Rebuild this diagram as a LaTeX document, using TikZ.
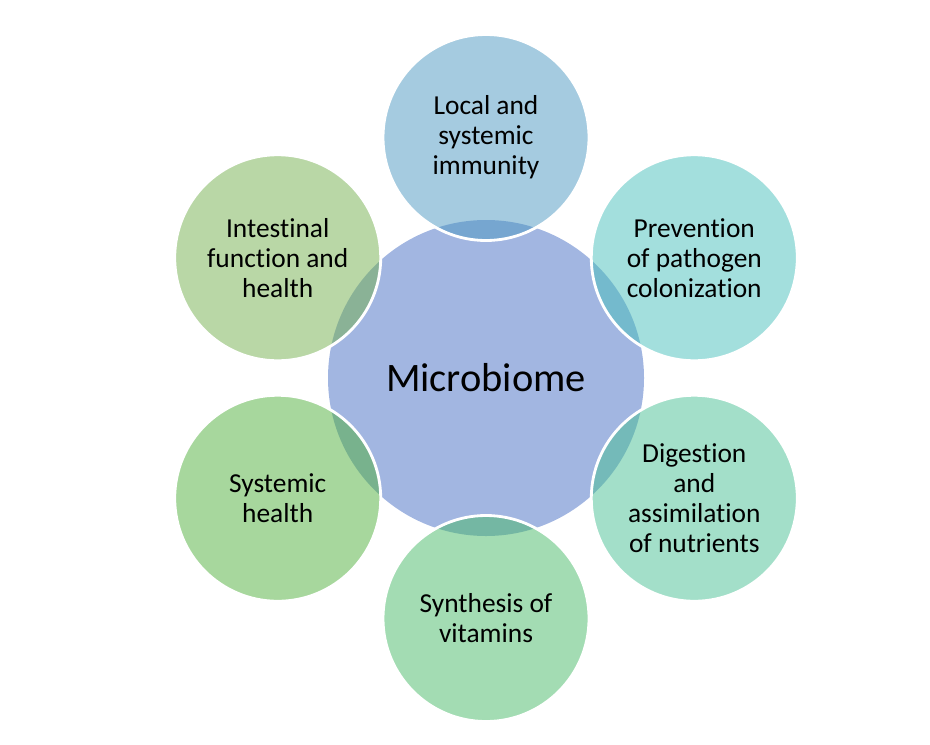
\documentclass[tikz,border=0pt]{standalone}
\usepackage{fontspec}
\setmainfont[Ligatures=NoCommon]{Carlito}
\definecolor{hubblue}{RGB}{162,182,225}
\definecolor{immblue}{RGB}{75,151,193}
\definecolor{pathteal}{RGB}{71,191,187}
\definecolor{digmint}{RGB}{71,191,147}
\definecolor{vitgreen}{RGB}{71,185,103}
\definecolor{sysgreen}{RGB}{79,175,59}
\definecolor{intgreen}{RGB}{115,175,77}
\tikzset{
  hub/.style={circle, fill=hubblue, minimum size=6.32cm, inner sep=0pt,
    font=\fontsize{23}{27}\selectfont},
  spoke/.style={circle, draw=white, line width=1.6pt, fill opacity=0.5, text opacity=1,
    minimum size=4.12cm, inner sep=0pt, align=center, font=\fontsize{15.6}{17.1}\selectfont},
}

\begin{document}
\begin{tikzpicture}
  \useasboundingbox (0,0) rectangle (18.6,14.88);
  \node[hub] (micro) at (9.72,7.32) {Microbiome};
  \foreach \ang/\name/\col/\txt in {
      90/immunity/immblue/{Local and\\systemic\\immunity},
      30/pathogen/pathteal/{Prevention\\of pathogen\\colonization},
     -30/digestion/digmint/{Digestion\\and\\assimilation\\of nutrients},
     -90/vitamins/vitgreen/{Synthesis of\\vitamins},
    -150/systemic/sysgreen/{Systemic\\health},
     150/intestinal/intgreen/{Intestinal\\function and\\health}}
    {\node[spoke, fill=\col] (\name) at ([shift={(\ang:4.81)}]micro) {\txt};}
\end{tikzpicture}
\end{document}
